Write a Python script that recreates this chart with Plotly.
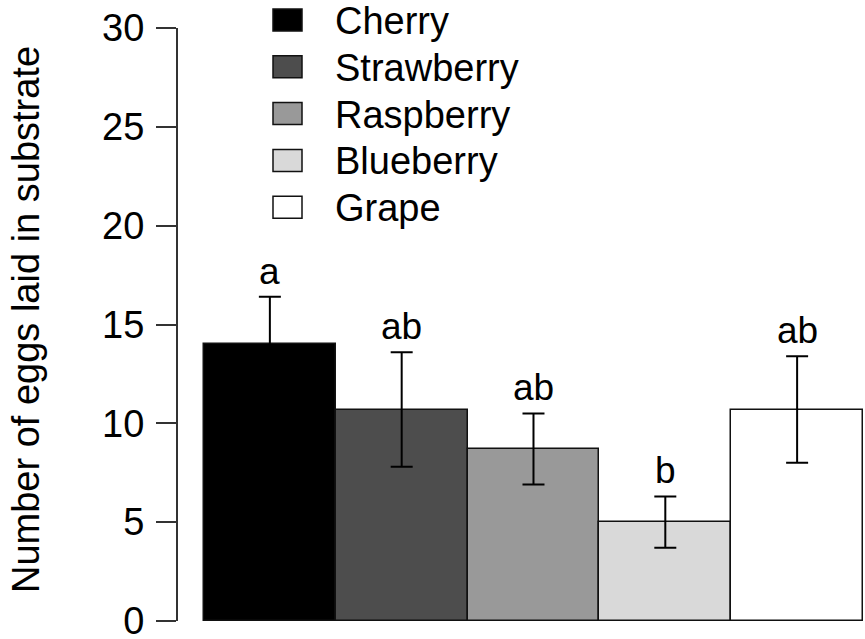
import plotly.graph_objects as go

# Mean number of eggs per substrate, with standard errors and group letters
fruits = ["Cherry", "Strawberry", "Raspberry", "Blueberry", "Grape"]
mean_eggs = [14.0, 10.7, 8.7, 5.0, 10.7]
se_eggs = [2.4, 2.9, 1.8, 1.3, 2.7]
letters = ["a", "ab", "ab", "b", "ab"]
fills = ["#000000", "#4d4d4d", "#999999", "#d9d9d9", "#ffffff"]
y_ticks = [0, 5, 10, 15, 20, 25, 30]

W, H = 865, 639
ML, MR, MT, MB = 178, 0, 28, 18
FONT = "Liberation Sans, Arial, sans-serif"
FS = 38

fig = go.Figure()
fig.add_trace(go.Bar(
    x=fruits, y=mean_eggs,
    marker=dict(color=fills, line=dict(color="#111111", width=1.5)),
    error_y=dict(type="data", array=se_eggs, visible=True,
                 color="#000000", thickness=2, width=11),
    showlegend=False, hoverinfo="skip",
))

# group letters above the error bars
for f, m, s, lab in zip(fruits, mean_eggs, se_eggs, letters):
    fig.add_annotation(x=f, y=m + s, text=lab, showarrow=False,
                       yanchor="bottom", yshift=3,
                       font=dict(family=FONT, size=37, color="#000"))

# manual legend: filled boxes with labels
pw, ph = W - ML - MR, H - MT - MB
def px_x(px):
    return (px - ML) / pw
def px_y(py):
    return (H - MB - py) / ph

for i, (f, c) in enumerate(zip(fruits, fills)):
    cy = 20 + 46.8 * i
    fig.add_shape(type="rect", xref="paper", yref="paper",
                  x0=px_x(273), x1=px_x(302), y0=px_y(cy + 11), y1=px_y(cy - 11),
                  fillcolor=c, line=dict(color="#111111", width=1.5))
    fig.add_annotation(xref="paper", yref="paper", x=px_x(333), y=px_y(cy + 1),
                       text=f, showarrow=False, xanchor="left", yanchor="middle",
                       font=dict(family=FONT, size=FS, color="#000"))

# y-axis title
fig.add_annotation(xref="paper", yref="paper", x=px_x(26), y=px_y(320),
                   text="Number of eggs laid in substrate", textangle=-90,
                   showarrow=False, xanchor="center", yanchor="middle",
                   font=dict(family=FONT, size=FS, color="#000"))

fig.update_layout(
    width=W, height=H,
    margin=dict(l=ML, r=MR, t=MT, b=MB, pad=0, autoexpand=False),
    paper_bgcolor="white", plot_bgcolor="white",
    bargap=0,
    xaxis=dict(range=[-0.697, 4.515], visible=False, fixedrange=True,
               automargin=False),
    yaxis=dict(range=[0, 30], tickvals=y_ticks, ticks="outside", ticklen=20,
               tickwidth=2, tickcolor="#333", showline=True, linewidth=2,
               linecolor="#333", showgrid=False, zeroline=False,
               automargin=False,
               ticklabelstandoff=4, ticklabeloverflow="allow",
               tickfont=dict(family=FONT, size=FS, color="#000")),
)

fig.write_html("out.html")
